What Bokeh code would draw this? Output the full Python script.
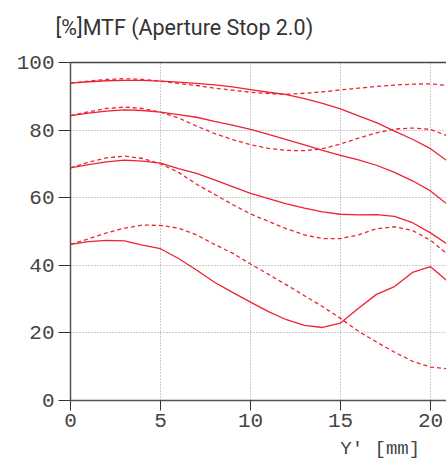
from bokeh.plotting import figure
from bokeh.models import Range1d, LinearAxis, FixedTicker, Title
from bokeh.embed import file_html
from bokeh.resources import INLINE

# ---- data ----
y_pos = [0, 1, 2, 3, 4, 5, 6, 7, 8, 9, 10, 11, 12, 13, 14, 15, 16, 17, 18, 19, 20, 20.9]

s1 = [93.9, 94.3, 94.6, 94.7, 94.7, 94.5, 94.2, 93.8, 93.4, 92.8, 92.0, 91.2, 90.5, 89.3, 87.9, 86.3, 84.2, 82.2, 79.7, 77.3, 74.5, 71.0]
d1 = [93.9, 94.5, 95.0, 95.2, 95.0, 94.5, 93.8, 93.2, 92.4, 91.8, 91.2, 90.8, 90.6, 90.9, 91.3, 91.9, 92.4, 92.9, 93.3, 93.6, 93.7, 93.2]
s2 = [84.3, 85.0, 85.6, 86.0, 85.8, 85.3, 84.6, 83.8, 82.6, 81.5, 80.2, 78.7, 77.2, 75.6, 74.0, 72.5, 71.2, 69.6, 67.5, 65.0, 62.0, 58.2]
d2 = [84.3, 85.4, 86.4, 86.8, 86.4, 85.3, 83.6, 81.2, 79.0, 77.2, 75.7, 74.6, 74.0, 73.9, 74.5, 75.9, 77.6, 79.2, 80.3, 80.6, 80.2, 78.4]
s3 = [68.8, 69.8, 70.6, 71.1, 70.8, 70.2, 68.6, 67.2, 65.3, 63.3, 61.3, 59.7, 58.2, 56.9, 55.8, 55.1, 54.9, 55.0, 54.5, 52.6, 49.6, 46.4]
d3 = [68.8, 70.5, 71.8, 72.3, 71.6, 70.0, 67.5, 64.0, 61.0, 58.0, 55.2, 53.0, 50.8, 49.0, 47.9, 47.9, 49.0, 50.8, 51.4, 50.3, 47.4, 43.5]
s4 = [46.2, 47.0, 47.4, 47.2, 46.0, 44.9, 42.0, 38.6, 35.0, 32.0, 29.1, 26.3, 23.9, 22.2, 21.6, 22.9, 27.3, 31.4, 33.7, 37.9, 39.6, 35.5]
d4 = [46.2, 47.8, 49.6, 51.0, 51.9, 51.8, 51.0, 49.0, 46.2, 43.6, 40.4, 37.3, 34.2, 31.0, 27.8, 24.3, 20.5, 17.3, 14.3, 11.6, 9.9, 9.4]

x_ticks = [0, 5, 10, 15, 20]
y_ticks = [0, 20, 40, 60, 80, 100]

title_text = "[%]MTF (Aperture Stop 2.0)"
x_label = "Y'  [mm]"

# ---- layout constants ----
W, H = 446, 466
LEFT, TOP, BOTTOM = 70, 62, 400
PX_PER_MM = 18.0

x_end = (W - LEFT) / PX_PER_MM

p = figure(width=W, height=H, output_backend="svg", toolbar_location=None,
           x_range=Range1d(0, x_end), y_range=Range1d(0, 100),
           min_border_left=LEFT, min_border_top=TOP,
           min_border_bottom=H - BOTTOM, min_border_right=0)
p.outline_line_color = None
p.background_fill_color = "white"
p.border_fill_color = "white"

mono = "Liberation Mono"
for ax in p.xaxis:
    ax.ticker = FixedTicker(ticks=x_ticks)
    ax.major_tick_out = 10
    ax.major_tick_in = 0
    ax.minor_tick_out = 0
    ax.minor_tick_in = 0
    ax.major_label_standoff = 3
for ax in p.yaxis:
    ax.ticker = FixedTicker(ticks=y_ticks)
    ax.major_tick_out = 12
    ax.major_tick_in = 0
    ax.minor_tick_out = 0
    ax.minor_tick_in = 0
    ax.major_label_standoff = 4
for ax in list(p.xaxis) + list(p.yaxis):
    ax.axis_line_color = "#555555"
    ax.axis_line_width = 1.5
    ax.major_tick_line_color = "#333333"
    ax.major_tick_line_width = 1
    ax.major_label_text_font = mono
    ax.major_label_text_font_size = "21px"
    ax.major_label_text_color = "#444444"

# top frame line; one invisible tick gives room between frame and title
top_axis = LinearAxis(ticker=FixedTicker(ticks=[0]), major_label_text_font_size="0px",
                      major_label_overrides={0: ""}, major_label_standoff=0,
                      axis_line_color="#444444", axis_line_width=1.5,
                      major_tick_line_color=None, minor_tick_line_color=None,
                      major_tick_out=21, major_tick_in=0, minor_tick_out=0, minor_tick_in=0)
p.add_layout(top_axis, "above")

p.xgrid.ticker = FixedTicker(ticks=[5, 10, 15, 20])
p.ygrid.ticker = FixedTicker(ticks=[20, 40, 60, 80])
for g in (p.xgrid, p.ygrid):
    g.grid_line_color = "#999999"
    g.grid_line_dash = "1 2"
    g.grid_line_width = 1

red = "#ee2233"
for s in (s1, s2, s3, s4):
    p.line(y_pos, s, line_color=red, line_width=1.3)
for d in (d1, d2, d3, d4):
    p.line(y_pos, d, line_color=red, line_width=1.3, line_dash="4 3")

p.title.text = title_text
p.title.text_font = "Roboto"
p.title.text_font_size = "21.5px"
p.title.text_font_style = "normal"
p.title.text_color = "#333333"
p.title.align = "left"
p.title.offset = -15
p.title.standoff = 4

p.add_layout(Title(text=x_label, align="right", text_font=mono, text_font_size="19px",
                   text_font_style="normal", text_color="#444444", standoff=13,
                   offset=15), "below")

open("out.html", "w").write(file_html(p, INLINE))
